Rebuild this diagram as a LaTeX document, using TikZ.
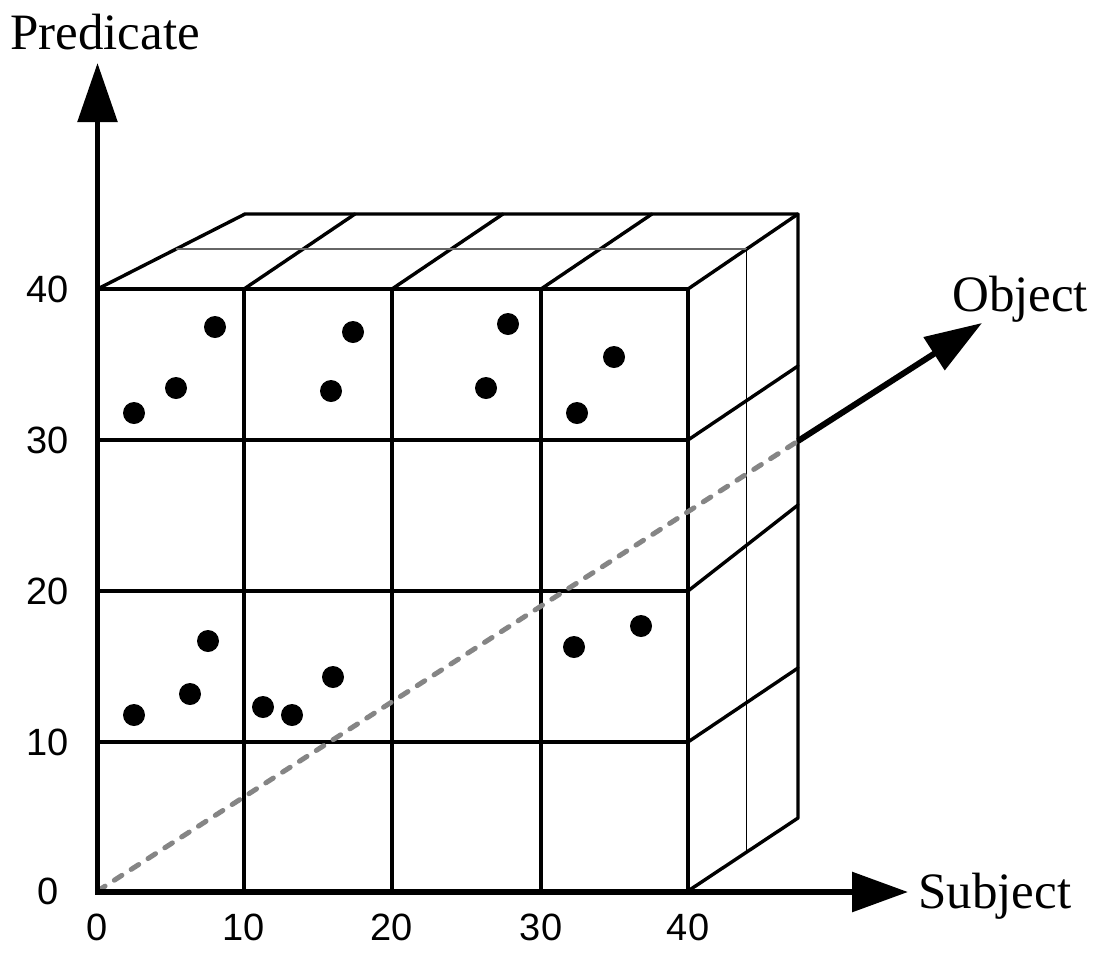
\documentclass[tikz,border=0pt]{standalone}
\usepackage{fontspec}
\setmainfont{Liberation Serif}
\newfontfamily\numfont{Liberation Sans}
\usetikzlibrary{arrows.meta}
\begin{document}
\begin{tikzpicture}[x=1pt,y=-1pt,
  cubeline/.style={line width=3.4pt,line cap=round,line join=round},
  thinline/.style={line width=1.3pt},
  thingray/.style={line width=1.7pt,draw=black!60},
  axisline/.style={line width=5.5pt},
  dashline/.style={line width=5pt,draw=black!48,dash pattern=on 9pt off 11pt,line cap=round},
  dot/.style={fill=black},
  axislabel/.style={inner sep=0pt,font=\fontsize{51}{60}\selectfont},
  ticklabel/.style={inner sep=0pt,font=\numfont\fontsize{38}{44}\selectfont}]
\useasboundingbox (0,0) rectangle (1098,962);
% corner coordinates
\coordinate (O) at (97.5,891);
\coordinate (FTL) at (97.5,289);
\coordinate (FTR) at (688,289);
\coordinate (FBR) at (688,891);
\coordinate (BTL) at (245,214);
\coordinate (BTR) at (798,214);
\coordinate (BBR) at (798,818);
\coordinate (Ostart) at (798,441);
\coordinate (Oend) at (982,323);
\coordinate (Pend) at (97.5,63);
\coordinate (Send) at (908,892);
\coordinate (Gl) at (176.2,249);
\coordinate (Gr) at (746.7,249);
\coordinate (Gb) at (746.7,852);
% front face grid
\draw[cubeline] (FTL) -- (FTR) -- (FBR);
\foreach \x in {244,392,541} \draw[cubeline] (\x,289) -- (\x,891);
\foreach \y in {440,591,742} \draw[cubeline] (97.5,\y) -- (688,\y);
% top face
\draw[cubeline] (FTL) -- (BTL) -- (BTR) -- (BBR) -- (FBR);
\draw[cubeline] (244,289) -- (355,214);
\draw[cubeline] (392,289) -- (503,214);
\draw[cubeline] (541,289) -- (652,214);
\draw[cubeline] (FTR) -- (BTR);
% right face dividers
\draw[cubeline] (688,440) -- (798,366);
\draw[cubeline] (688,591) -- (798,505);
\draw[cubeline] (688,742) -- (798,668);
% thin lines
\draw[thingray] (Gl) -- (Gr);
\draw[thinline] (Gr) -- (Gb);
% dashed diagonal
\draw[dashline] (O) -- (Ostart);
% axes
\draw[axisline,-{Triangle[length=59pt,width=39pt]}] (97.5,893) -- (Pend);
\draw[axisline,line width=6pt,-{Triangle[length=56pt,width=39pt]}] (95,892) -- (Send);
\draw[line width=6pt,-{Triangle[length=57pt,width=38pt]}] (Ostart) -- (Oend);
% dots
\foreach \p in {(134,413),(176,388),(215,327),(331,391),(353,332),(486,388),(508,324),(577,413),(614,357),
  (134,715),(190,694),(208,641),(263,707),(292,715),(333,677),(574,647),(641,626)}
  \fill[dot] \p circle[radius=11pt];
% axis labels
\node[axislabel,anchor=base west] (predl) at (10,49) {Predicate};
\node[axislabel,anchor=base west] (objl) at (952,311) {Object};
\node[axislabel,anchor=base west] (subjl) at (918,908) {Subject};
% tick labels
\node[ticklabel] (y0) at (48,891) {0};
\node[ticklabel] (y10) at (48,742) {10};
\node[ticklabel] (y20) at (48,591) {20};
\node[ticklabel] (y30) at (48,440) {30};
\node[ticklabel] (y40) at (48,289) {40};
\node[ticklabel] (x0) at (97.5,927) {0};
\node[ticklabel] (x10) at (244,927) {10};
\node[ticklabel] (x20) at (392,927) {20};
\node[ticklabel] (x30) at (541,927) {30};
\node[ticklabel] (x40) at (688,927) {40};
\end{tikzpicture}
\end{document}
